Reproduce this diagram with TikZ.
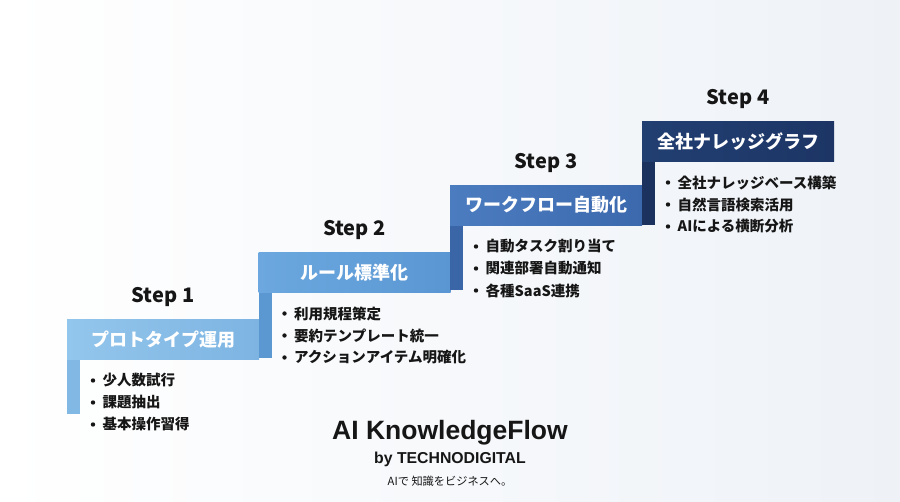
\documentclass[tikz,border=0pt]{standalone}
\usepackage{fontspec}
\newfontfamily\jp{Noto Sans CJK JP}
\newfontfamily\hv{Liberation Sans}
\definecolor{hA1}{HTML}{93C6EC}\definecolor{hB1}{HTML}{7DB4E2}\definecolor{s1}{HTML}{82B8E4}
\definecolor{hA2}{HTML}{6CA8DF}\definecolor{hB2}{HTML}{5A96D2}\definecolor{s2}{HTML}{5B97D1}
\definecolor{hA3}{HTML}{4C7CC0}\definecolor{hB3}{HTML}{3C69AE}\definecolor{s3}{HTML}{3A65A6}
\definecolor{hA4}{HTML}{223F72}\definecolor{hB4}{HTML}{1C3565}\definecolor{s4}{HTML}{1B325F}
\definecolor{ink}{HTML}{161616}
\definecolor{bgB}{HTML}{EEF2F7}
\begin{document}
\begin{tikzpicture}[x=1pt,y=-1pt,
  header/.style={minimum width=192pt,minimum height=40pt,inner sep=0pt,text=white,
    font=\jp\bfseries\fontsize{18}{20}\selectfont},
  steplabel/.style={text=ink,inner sep=0pt,font=\jp\bfseries\fontsize{20}{22}\selectfont},
  item/.style={anchor=west,text=ink,inner sep=0pt,font=\jp\bfseries\fontsize{14.5}{16}\selectfont},
]
\useasboundingbox (0,0) rectangle (900,502);
\shade[shading=axis,shading angle=135,left color=white,right color=bgB] (0,0) rectangle (900,502);

% step geometry: x, top y, strip length
\foreach \i/\x/\y/\len/\title/\la/\lb/\lc in {
  1/67/319/55/プロトタイプ運用/少人数試行/課題抽出/基本操作習得,
  2/258.5/252/66/ルール標準化/利用規程策定/要約テンプレート統一/アクションアイテム明確化,
  3/450/185/65/ワークフロー自動化/自動タスク割り当て/関連部署自動通知/各種SaaS連携,
  4/642/121/64/全社ナレッジグラフ/全社ナレッジベース構築/自然言語検索活用/AIによる横断分析}{
  \fill[s\i] (\x,\y+40) rectangle (\x+13,\y+40+\len);
  \node[header,left color=hA\i,right color=hB\i,anchor=north west] (h\i) at (\x,\y) {\title};
  \node[steplabel] (st\i) at (\x+96,\y-22) {Step \i};
  \foreach \k/\t in {0/\la,1/\lb,2/\lc}{
    \fill[ink] (\x+26,\y+61.5+22*\k) circle (2.2pt);
    \node[item] (it\i\k) at (\x+35.5,\y+61.5+22*\k) {\t};
  }
}

\node[text=ink,inner sep=0pt,font=\hv\bfseries\fontsize{26.5}{28}\selectfont] (title) at (450,433) {AI KnowledgeFlow};
\node[text=ink,inner sep=0pt,font=\hv\bfseries\fontsize{15.8}{17}\selectfont] (by) at (450,459.5) {by TECHNODIGITAL};
\node[text=ink,inner sep=0pt,font=\jp\fontsize{11.2}{13}\selectfont] (tag) at (450,481.5) {AIで 知識をビジネスへ。};
\end{tikzpicture}
\end{document}
